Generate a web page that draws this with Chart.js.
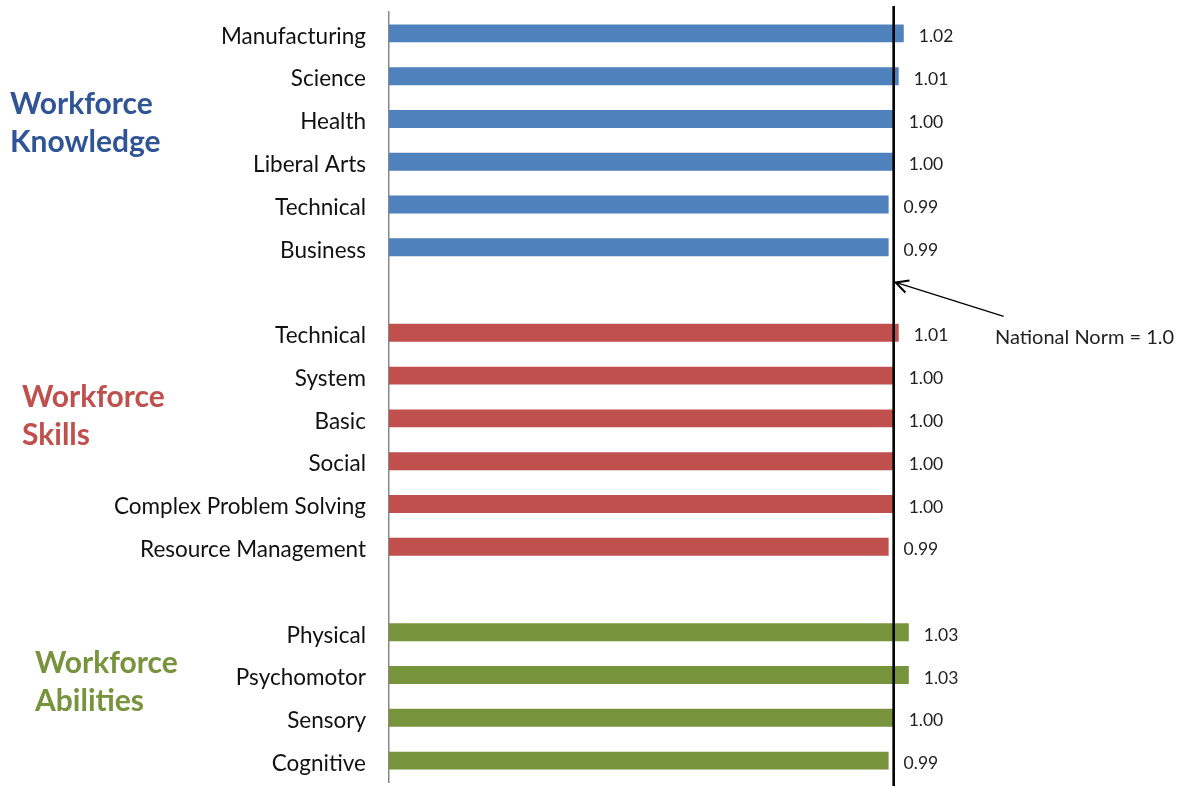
<!DOCTYPE html>
<html>
<head>
<meta charset="utf-8">
<script src="https://cdn.jsdelivr.net/npm/chart.js@4.4.0/dist/chart.umd.min.js"></script>
<style>
  body { margin: 0; background: #fff; }
  #wrap { width: 1184px; height: 786px; position: relative; }
</style>
</head>
<body>
<div id="wrap"><canvas id="normChart"></canvas></div>
<script>
// categories, blank entries are the gaps between the three groups
const categories = [
  'Manufacturing', 'Science', 'Health', 'Liberal Arts', 'Technical', 'Business', '',
  'Technical', 'System', 'Basic', 'Social', 'Complex Problem Solving', 'Resource Management', '',
  'Physical', 'Psychomotor', 'Sensory', 'Cognitive'
];
const knowledgeValues = [1.02, 1.01, 1.00, 1.00, 0.99, 0.99];
const skillsValues = [1.01, 1.00, 1.00, 1.00, 1.00, 0.99];
const abilitiesValues = [1.03, 1.03, 1.00, 0.99];
const nationalNorm = 1.0;

const groups = [
  { lines: ['Workforce', 'Knowledge'], color: '#2F5597', values: knowledgeValues, barColor: '#4F81BD' },
  { lines: ['Workforce', 'Skills'], color: '#C0504D', values: skillsValues, barColor: '#C0504D' },
  { lines: ['Workforce', 'Abilities'], color: '#77933C', values: abilitiesValues, barColor: '#77933C' }
];

// build one data array with nulls in the gaps
const values = [];
const barColors = [];
groups.forEach((g, gi) => {
  g.values.forEach(v => { values.push(v); barColors.push(g.barColor); });
  if (gi < groups.length - 1) { values.push(null); barColors.push('rgba(0,0,0,0)'); }
});

// value labels, norm line, arrow and group headings
const extrasPlugin = {
  id: 'extras',
  afterDraw(chart) {
    const { ctx, scales } = chart;
    const x = scales.x, y = scales.y;
    ctx.save();

    // value labels
    ctx.font = '17.5px Lato';
    ctx.fillStyle = '#222';
    ctx.textBaseline = 'middle';
    ctx.textAlign = 'left';
    values.forEach((v, i) => {
      if (v === null) return;
      ctx.fillText(v.toFixed(2), x.getPixelForValue(v) + 15, y.getPixelForValue(i) + 3);
    });

    // national norm line
    const nx = x.getPixelForValue(nationalNorm);
    ctx.strokeStyle = '#000';
    ctx.lineWidth = 2.6;
    ctx.beginPath();
    ctx.moveTo(nx, 6);
    ctx.lineTo(nx, chart.height);
    ctx.stroke();

    // arrow pointing at the line
    const tipX = nx + 2, tipY = (y.getPixelForValue(6) + y.getPixelForValue(7)) / 2 - 29;
    const startX = tipX + 108, startY = tipY + 34;
    ctx.lineWidth = 1.2;
    ctx.beginPath();
    ctx.moveTo(startX, startY);
    ctx.lineTo(tipX, tipY);
    ctx.stroke();
    const ang = Math.atan2(startY - tipY, startX - tipX);
    ctx.lineWidth = 2;
    ctx.beginPath();
    ctx.moveTo(tipX + 14 * Math.cos(ang - 0.45), tipY + 14 * Math.sin(ang - 0.45));
    ctx.lineTo(tipX, tipY);
    ctx.lineTo(tipX + 14 * Math.cos(ang + 0.5), tipY + 14 * Math.sin(ang + 0.5));
    ctx.stroke();

    ctx.font = '20px Lato';
    ctx.fillStyle = '#222';
    ctx.fillText('National Norm = 1.0', 995, y.getPixelForValue(7) + 5);

    // group headings
    ctx.font = 'bold 30px Lato';
    const headingPos = [
      { left: 10, at: 2.1 },
      { left: 22, at: 8.95 },
      { left: 35, at: 15.17 }
    ];
    groups.forEach((g, gi) => {
      const cy = y.getPixelForValue(0) + headingPos[gi].at * (y.getPixelForValue(1) - y.getPixelForValue(0));
      ctx.fillStyle = g.color;
      ctx.fillText(g.lines[0], headingPos[gi].left, cy - 19);
      ctx.fillText(g.lines[1], headingPos[gi].left, cy + 19);
    });

    ctx.restore();
  }
};

const ctx = document.getElementById('normChart').getContext('2d');
const normChart = new Chart(ctx, {
  type: 'bar',
  data: {
    labels: categories,
    datasets: [{
      data: values,
      backgroundColor: barColors,
      borderWidth: 0,
      barPercentage: 0.42,
      categoryPercentage: 1.0
    }]
  },
  options: {
    indexAxis: 'y',
    responsive: true,
    maintainAspectRatio: false,
    animation: false,
    layout: { padding: { top: 12, bottom: 4, right: 38, left: 0 } },
    plugins: {
      legend: { display: false },
      tooltip: { enabled: false }
    },
    scales: {
      x: {
        display: false,
        min: 0,
        max: 1.5
      },
      y: {
        afterFit(scale) {
          scale.width = 389;
          scale.paddingTop = 0;
          scale.paddingBottom = 0;
        },
        grid: { display: false, drawTicks: false },
        border: { display: true, color: '#888', width: 1.5 },
        ticks: {
          padding: 23,
          labelOffset: 3,
          color: '#111',
          font: { family: 'Lato', size: 22.5 }
        }
      }
    }
  },
  plugins: [extrasPlugin]
});
</script>
</body>
</html>
